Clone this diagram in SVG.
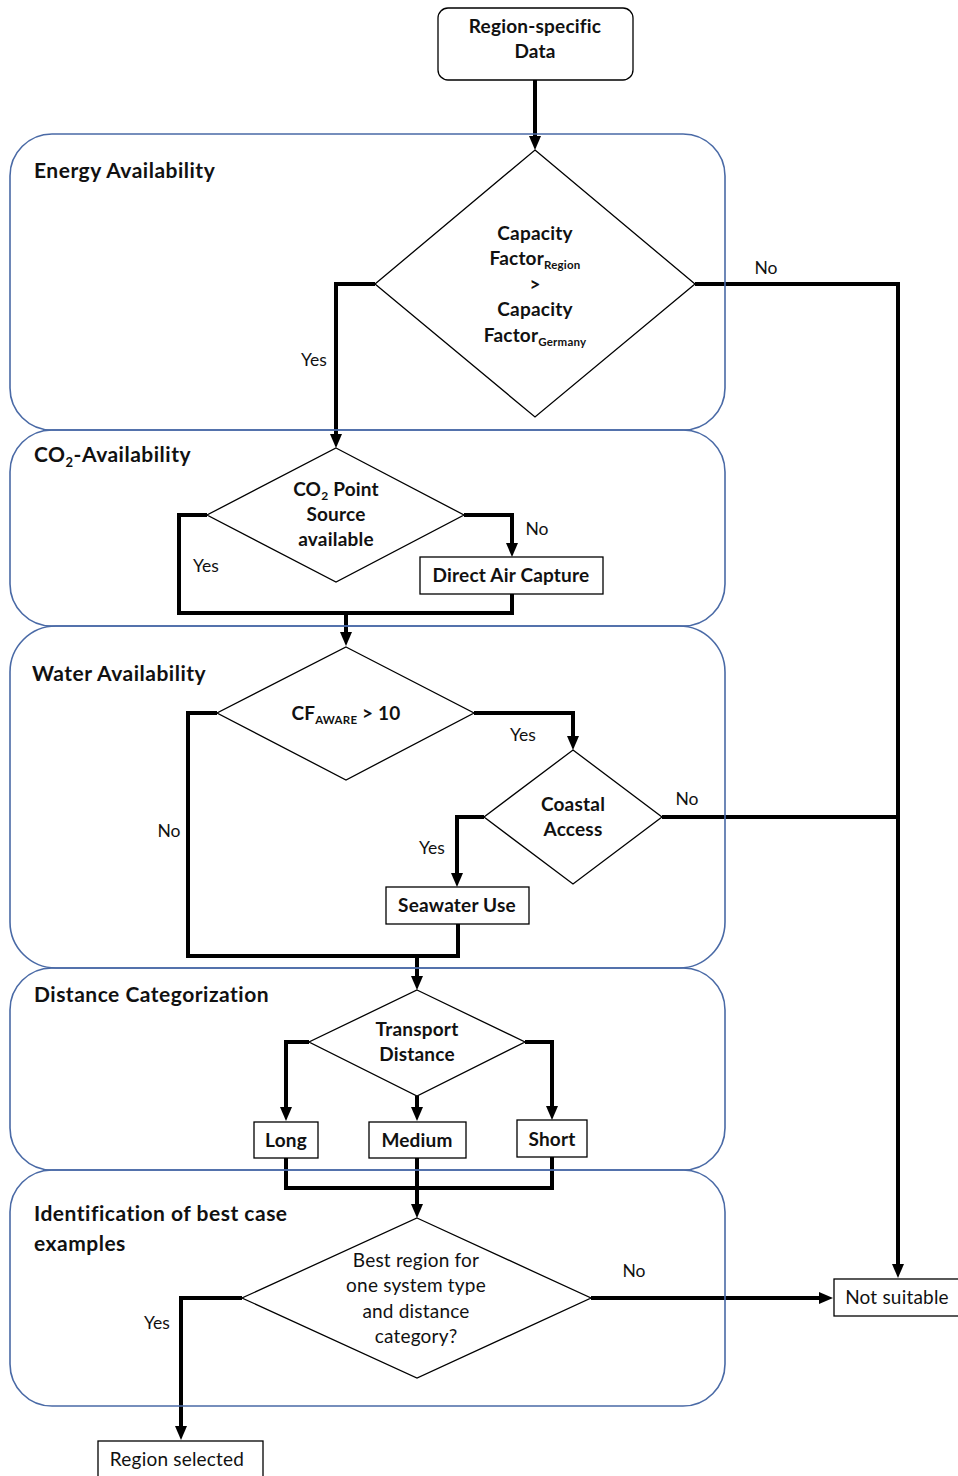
<svg xmlns="http://www.w3.org/2000/svg" width="958" height="1476" viewBox="0 0 958 1476">
<defs>
<marker id="arr" viewBox="0 0 14 12" markerWidth="14" markerHeight="12" refX="4" refY="6" orient="auto" markerUnits="userSpaceOnUse">
<path d="M0,0 L14,6 L0,12 z" fill="#000"/>
</marker>
<style>
.panel{fill:none;stroke:#4a6aa6;stroke-width:1.6}
.node{fill:#fff;stroke:#000;stroke-width:1.3}
.conn{fill:none;stroke:#000;stroke-width:4;stroke-linejoin:miter}
.t{font-family:Lato,"Liberation Sans",sans-serif;font-size:19px;letter-spacing:0.2px;fill:#111}
.b{font-weight:bold}
.c{text-anchor:middle}
.title{font-family:Lato,"Liberation Sans",sans-serif;font-size:21px;letter-spacing:0.5px;font-weight:bold;fill:#111}
.lbl{font-family:Lato,"Liberation Sans",sans-serif;font-size:17.5px;fill:#111}
</style>
</defs>
<rect width="958" height="1476" fill="#fff"/>

<g id="connectors">
<path class="conn" d="M535,80 V140" marker-end="url(#arr)"/>
<path class="conn" d="M695,284 H898 V1268" marker-end="url(#arr)"/>
<path class="conn" d="M375,284 H336 V438" marker-end="url(#arr)"/>
<path class="conn" d="M207,515 H179 V613 H512 V594"/>
<path class="conn" d="M464,515 H512 V547" marker-end="url(#arr)"/>
<path class="conn" d="M346,613 V636" marker-end="url(#arr)"/>
<path class="conn" d="M217,713 H188 V956 H458 V924"/>
<path class="conn" d="M474,713 H573 V740" marker-end="url(#arr)"/>
<path class="conn" d="M662,817 H898"/>
<path class="conn" d="M484,817 H457 V877" marker-end="url(#arr)"/>
<path class="conn" d="M417,956 V980" marker-end="url(#arr)"/>
<path class="conn" d="M309,1042 H286 V1111" marker-end="url(#arr)"/>
<path class="conn" d="M525,1042 H552 V1110" marker-end="url(#arr)"/>
<path class="conn" d="M417,1096 V1111" marker-end="url(#arr)"/>
<path class="conn" d="M286,1158 V1188 H552 V1157"/>
<path class="conn" d="M417,1158 V1208" marker-end="url(#arr)"/>
<path class="conn" d="M591,1298 H823" marker-end="url(#arr)"/>
<path class="conn" d="M242,1298 H181 V1430" marker-end="url(#arr)"/>
<text class="lbl" x="766" y="274" text-anchor="middle">No</text>
<text class="lbl" x="314" y="366" text-anchor="middle">Yes</text>
<text class="lbl" x="206" y="572" text-anchor="middle">Yes</text>
<text class="lbl" x="537" y="535" text-anchor="middle">No</text>
<text class="lbl" x="169" y="837" text-anchor="middle">No</text>
<text class="lbl" x="523" y="741" text-anchor="middle">Yes</text>
<text class="lbl" x="687" y="805" text-anchor="middle">No</text>
<text class="lbl" x="432" y="854" text-anchor="middle">Yes</text>
<text class="lbl" x="634" y="1277" text-anchor="middle">No</text>
<text class="lbl" x="157" y="1329" text-anchor="middle">Yes</text>
</g>

<g id="panel-energy">
<rect class="panel" x="10" y="134" width="715" height="296" rx="42"/>
<text class="title" x="34" y="178">Energy Availability</text>
</g>
<g id="panel-co2">
<rect class="panel" x="10" y="430" width="715" height="196" rx="42"/>
<text class="title" x="34" y="462">CO<tspan font-size="13" dy="5">2</tspan><tspan dy="-5">-Availability</tspan></text>
</g>
<g id="panel-water">
<rect class="panel" x="10" y="626" width="715" height="342" rx="46"/>
<text class="title" x="32" y="681">Water Availability</text>
</g>
<g id="panel-distance">
<rect class="panel" x="10" y="968" width="715" height="202" rx="42"/>
<text class="title" x="34" y="1002">Distance Categorization</text>
</g>
<g id="panel-identification">
<rect class="panel" x="10" y="1170" width="715" height="236" rx="42"/>
<text class="title" x="34" y="1221">Identification of best case</text>
<text class="title" x="34" y="1251">examples</text>
</g>

<g id="node-region-data">
<rect class="node" x="438" y="8" width="195" height="72" rx="10"/>
<text class="t b c" x="535" y="33">Region-specific</text>
<text class="t b c" x="535" y="58">Data</text>
</g>
<g id="node-capacity">
<polygon class="node" points="535,150 695,284 535,417 375,284"/>
<text class="t b c" x="535" y="240">Capacity</text>
<text class="t b c" x="535" y="265">Factor<tspan font-size="11.5" dy="4">Region</tspan></text>
<text class="t b c" x="535" y="291">&gt;</text>
<text class="t b c" x="535" y="316">Capacity</text>
<text class="t b c" x="535" y="342">Factor<tspan font-size="11.5" dy="4">Germany</tspan></text>
</g>
<g id="node-co2-source">
<polygon class="node" points="336,448 464,515 336,582 207,515"/>
<text class="t b c" x="336" y="496">CO<tspan font-size="12" dy="4">2</tspan><tspan dy="-4"> Point</tspan></text>
<text class="t b c" x="336" y="521">Source</text>
<text class="t b c" x="336" y="546">available</text>
</g>
<g id="node-dac">
<rect class="node" x="420" y="557" width="183" height="37"/>
<text class="t b c" x="511" y="582">Direct Air Capture</text>
</g>
<g id="node-cf-aware">
<polygon class="node" points="346,647 474,713 346,780 217,713"/>
<text class="t b c" x="346" y="720">CF<tspan font-size="11.5" dy="4">AWARE</tspan><tspan dy="-4"> &gt; 10</tspan></text>
</g>
<g id="node-coastal">
<polygon class="node" points="573,750 662,817 573,884 484,817"/>
<text class="t b c" x="573" y="811">Coastal</text>
<text class="t b c" x="573" y="836">Access</text>
</g>
<g id="node-seawater">
<rect class="node" x="386" y="887" width="143" height="37"/>
<text class="t b c" x="457" y="912">Seawater Use</text>
</g>
<g id="node-transport">
<polygon class="node" points="417,990 525,1042 417,1096 309,1042"/>
<text class="t b c" x="417" y="1036">Transport</text>
<text class="t b c" x="417" y="1061">Distance</text>
</g>
<g id="node-long">
<rect class="node" x="254" y="1122" width="64" height="36"/>
<text class="t b c" x="286" y="1147">Long</text>
</g>
<g id="node-medium">
<rect class="node" x="369" y="1122" width="97" height="36"/>
<text class="t b c" x="417" y="1147">Medium</text>
</g>
<g id="node-short">
<rect class="node" x="517" y="1120" width="70" height="37"/>
<text class="t b c" x="552" y="1146">Short</text>
</g>
<g id="node-best-region">
<polygon class="node" points="417,1218 591,1298 417,1378 242,1298"/>
<text class="t c" x="416" y="1267">Best region for</text>
<text class="t c" x="416" y="1292">one system type</text>
<text class="t c" x="416" y="1318">and distance</text>
<text class="t c" x="416" y="1343">category?</text>
</g>
<g id="node-not-suitable">
<rect class="node" x="834" y="1279" width="130" height="37"/>
<text class="t c" x="897" y="1304">Not suitable</text>
</g>
<g id="node-region-selected">
<rect class="node" x="98" y="1441" width="165" height="40"/>
<text class="t c" x="177" y="1466">Region selected</text>
</g>
</svg>
